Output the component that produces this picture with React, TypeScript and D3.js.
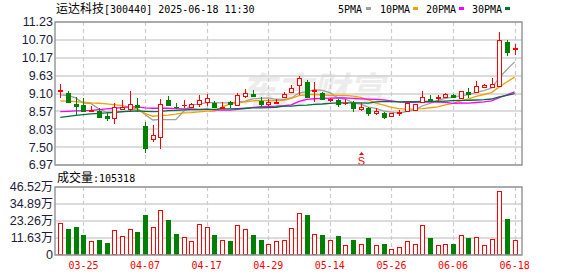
import React from 'react';
import * as d3 from 'd3';

const dates = ['03-20','03-21','03-24','03-25','03-26','03-27','03-28','03-31','04-01','04-02','04-03','04-07','04-08','04-09','04-10','04-11','04-14','04-15','04-16','04-17','04-18','04-21','04-22','04-23','04-24','04-25','04-28','04-29','04-30','05-06','05-07','05-08','05-09','05-12','05-13','05-14','05-15','05-16','05-19','05-20','05-21','05-22','05-23','05-26','05-27','05-28','05-29','05-30','06-03','06-04','06-05','06-06','06-09','06-10','06-11','06-12','06-13','06-16','06-17','06-18'];
const dateTicks = ['03-25','04-07','04-17','04-29','05-14','05-26','06-06','06-18'];

const opens = [9.16,9.11,8.79,8.76,8.58,8.58,8.44,8.36,8.65,8.65,8.75,8.13,7.74,7.80,8.91,8.71,8.75,8.71,8.78,8.86,8.81,8.66,8.84,8.76,9.03,9.09,8.89,8.78,8.81,9.00,9.15,9.35,9.45,9.17,9.12,8.90,8.91,8.82,8.83,8.64,8.66,8.51,8.53,8.44,8.51,8.59,8.61,8.84,8.94,8.96,9.00,9.06,8.96,9.15,9.15,9.30,9.29,9.33,10.64,10.43];
const highs = [9.38,9.18,9.00,8.96,8.72,8.66,8.51,8.81,8.91,9.17,8.96,8.26,8.16,8.94,9.04,8.83,8.91,8.83,9.06,9.09,8.88,8.84,8.88,9.12,9.23,9.20,8.99,8.93,8.93,9.15,9.35,9.63,9.50,9.45,9.15,8.98,8.93,8.93,8.88,8.81,8.69,8.66,8.56,8.53,8.61,8.81,8.79,9.17,9.06,9.06,9.11,9.08,9.17,9.27,9.47,9.39,9.55,10.92,10.69,10.57];
const lows = [8.98,8.81,8.46,8.54,8.56,8.36,8.29,8.18,8.63,8.58,8.54,7.34,7.66,7.45,8.74,8.63,8.68,8.69,8.71,8.73,8.66,8.63,8.68,8.73,8.96,9.01,8.71,8.73,8.78,8.96,9.12,9.06,8.96,8.86,8.91,8.86,8.71,8.76,8.56,8.58,8.43,8.46,8.33,8.41,8.43,8.56,8.60,8.81,8.88,8.88,8.97,8.96,8.94,8.97,9.12,9.26,9.26,9.30,10.23,10.25];
const closes = [9.19,8.86,8.73,8.59,8.62,8.41,8.36,8.69,8.69,8.80,8.71,7.49,7.86,8.78,8.76,8.71,8.75,8.78,8.91,8.98,8.71,8.71,8.78,9.06,9.11,9.04,8.79,8.84,8.86,9.08,9.27,9.55,9.00,9.19,8.94,8.95,8.78,8.82,8.66,8.71,8.51,8.58,8.41,8.51,8.54,8.81,8.78,9.00,8.91,8.99,9.08,9.00,9.17,9.10,9.32,9.35,9.37,10.69,10.35,10.45];
// volume in 万
const volumes = [21.7,17.8,19.2,13.7,9.3,10.3,8.2,16.9,12.8,17.6,15.7,27.4,18.9,30.6,23.9,14.4,12.1,9.3,21.0,18.9,13.7,10.0,9.6,20.3,17.8,13.7,10.3,7.5,9.3,10.3,18.2,28.5,27.4,14.1,13.7,10.3,13.0,6.6,10.3,7.5,11.6,6.6,7.5,4.1,5.5,9.3,7.5,20.3,11.6,6.6,7.5,7.5,13.5,11.6,12.1,6.6,10.9,43.6,24.6,10.53];

// moving-average values before enough history is on screen
const ma5Head = [9.06,9.04,8.97,8.81];
const ma10Head = [8.88,8.87,8.86,8.84,8.82,8.81,8.79,8.77,8.74];
const ma20Head = [8.56,8.57,8.58,8.59,8.60,8.62,8.64,8.66,8.68,8.70,8.70,8.67,8.66,8.66,8.66,8.65,8.64,8.64,8.63];
const ma30Head = [8.39,8.42,8.45,8.47,8.49,8.51,8.52,8.54,8.56,8.57,8.58,8.57,8.56,8.57,8.59,8.60,8.61,8.62,8.62,8.63,8.63,8.64,8.64,8.65,8.66,8.67,8.67,8.68,8.69];

const priceTicks = [6.97,7.50,8.03,8.57,9.10,9.63,10.17,10.70,11.23];
const volTicks = [0,11.63,23.26,34.89,46.52];
const volTickLabels = ['0','11.63万','23.26万','34.89万','46.52万'];
const maNames = ['5PMA','10PMA','20PMA','30PMA'];
const sellSignals = ['05-20'];
const title = '[300440] 2025-06-18 11:30';
const stockName = '运达科技';
const lastVolume = '105318';

const RED = '#ff0000';
const GREEN = '#008000';
const maColors = ['#a0a0a0', '#f0a000', '#ff00ff', '#006f3c'];
const MONO = "'DejaVu Sans Mono', monospace";
const CJK = "'Noto Sans CJK SC', sans-serif";
const SANS = "'Liberation Sans', Arial, sans-serif";

function ma(n: number, head: number[]) {
  return closes.map((_, i) => (i >= n - 1 ? d3.mean(closes.slice(i - n + 1, i + 1))! : head[i]));
}

export default function App() {
  const L = 55, R = 522, pTop = 22, pBot = 165, vTop = 187, vBot = 255;
  const idx = d3.range(dates.length);
  const x = d3.scaleBand<number>().domain(idx).range([56.5, 518.5]).padding(0);
  const cx = (i: number) => x(i)! + x.bandwidth() / 2;
  const y = d3.scaleLinear().domain([6.97, 11.23]).range([pBot, pTop]);
  const yv = d3.scaleLinear().domain([0, 46.52]).range([vBot, vTop]);

  const up = idx.map((i) =>
    closes[i] > opens[i] ? true : closes[i] < opens[i] ? false : i === 0 ? true : closes[i] >= closes[i - 1]
  );

  const mas = [ma(5, ma5Head), ma(10, ma10Head), ma(20, ma20Head), ma(30, ma30Head)];
  const line = d3.line<number>().x((_, i) => cx(i)).y((d) => y(d));

  const tickIdx = dateTicks.map((d) => dates.indexOf(d));
  const legendX = [338, 380, 426, 472];
  const markX = [366, 413, 459, 505];

  return (
    <svg width={578} height={276} style={{ display: 'block', position: 'absolute', left: 0, top: 0 }}>
      <rect x={0} y={0} width={578} height={276} fill="#fff" />
      {/* title */}
      <text x={56} y={13} fontSize={12} fill="#000">
        <tspan fontFamily={CJK} fontSize={12}>{stockName}</tspan>
        <tspan fontFamily={MONO} fontSize={10}>{title}</tspan>
      </text>
      {/* legend */}
      {maNames.map((n, k) => (
        <g key={n}>
          <text x={legendX[k]} y={13} fontFamily={MONO} fontSize={10} fill="#000">{n}</text>
          <rect x={markX[k]} y={7} width={5} height={3} fill={maColors[k]} />
        </g>
      ))}
      {/* watermark */}
      <text x={240} y={103} fontFamily={CJK} fontWeight={700} fontSize={36} fill="#ececec" fontStyle="italic">东方财富</text>

      {/* price grid */}
      {priceTicks.map((t) => (
        <line key={t} x1={L} x2={R} y1={Math.round(y(t))} y2={Math.round(y(t))} stroke="#d0d0d0" strokeWidth={1.5} />
      ))}
      {tickIdx.map((i) => (
        <line key={i} x1={Math.round(cx(i)) + 0.5} x2={Math.round(cx(i)) + 0.5} y1={pTop} y2={pBot} stroke="#cccccc" strokeWidth={1.2} strokeDasharray="4,3" />
      ))}
      {/* volume grid */}
      {volTicks.map((t) => (
        <line key={t} x1={L} x2={R} y1={Math.round(yv(t))} y2={Math.round(yv(t))} stroke="#d0d0d0" strokeWidth={1.5} />
      ))}
      {tickIdx.map((i) => (
        <line key={'v' + i} x1={Math.round(cx(i)) + 0.5} x2={Math.round(cx(i)) + 0.5} y1={vTop} y2={vBot} stroke="#cccccc" strokeWidth={1.2} strokeDasharray="4,3" />
      ))}

      {/* MA lines */}
      {mas.map((m, k) => (
        <path key={k} d={line(m)!} fill="none" stroke={maColors[k]} strokeWidth={1.3} />
      ))}

      {/* candles */}
      {idx.map((i) => {
        const c = Math.round(cx(i));
        const color = up[i] ? RED : GREEN;
        const top = Math.round(y(Math.max(opens[i], closes[i])));
        const bot = Math.round(y(Math.min(opens[i], closes[i])));
        const hi = Math.round(y(highs[i]));
        const lo = Math.round(y(lows[i]));
        const wx = c + 0.5;
        if (bot - top < 1) {
          return (
            <g key={i}>
              <line x1={wx} x2={wx} y1={hi} y2={lo} stroke={color} />
              <line x1={c - 2} x2={c + 3} y1={top + 0.5} y2={top + 0.5} stroke={color} />
            </g>
          );
        }
        if (up[i]) {
          return (
            <g key={i}>
              <line x1={wx} x2={wx} y1={hi} y2={top} stroke={color} />
              <line x1={wx} x2={wx} y1={bot} y2={lo} stroke={color} />
              <rect x={c - 1.5} y={top + 0.5} width={4} height={bot - top} fill="#fff" stroke={color} />
            </g>
          );
        }
        return (
          <g key={i}>
            <line x1={wx} x2={wx} y1={hi} y2={lo} stroke={color} />
            <rect x={c - 2} y={top} width={5} height={bot - top + 1} fill={color} />
          </g>
        );
      })}

      {/* sell signal */}
      {sellSignals.map((d) => {
        const c = Math.round(cx(dates.indexOf(d))) + 0.5;
        return (
          <g key={d}>
            <path d={`M${c},${pBot - 13} L${c - 2.5},${pBot - 10} L${c + 2.5},${pBot - 10} Z`} fill={RED} />
            <text x={c} y={pBot - 0.5} textAnchor="middle" fontFamily={SANS} fontSize={11} fill={RED}>S</text>
          </g>
        );
      })}

      {/* volume bars */}
      {idx.map((i) => {
        const c = Math.round(cx(i));
        const top = Math.round(yv(volumes[i]));
        return up[i] ? (
          <rect key={i} x={c - 1.5} y={top + 0.5} width={4} height={vBot - top - 1} fill="#fff" stroke={RED} />
        ) : (
          <rect key={i} x={c - 2} y={top} width={5} height={vBot - top} fill={GREEN} />
        );
      })}

      {/* borders */}
      <rect x={L} y={pTop} width={R - L} height={pBot - pTop} fill="none" stroke="#999" strokeWidth={1.5} />
      <rect x={L} y={vTop} width={R - L} height={vBot - vTop} fill="none" stroke="#999" strokeWidth={1.5} />

      {/* price labels */}
      {priceTicks.map((t) => (
        <text key={t} x={53} y={y(t)} dy="0.35em" textAnchor="end" fontFamily={SANS} fontSize={12.5} fill="#1c1c3a">
          {t.toFixed(2)}
        </text>
      ))}
      {/* volume labels */}
      {volTicks.map((t, k) => (
        <text key={t} x={53} y={yv(t) - 0.5} dy="0.35em" textAnchor="end" fontFamily={SANS} fontSize={12.5} fill="#1c1c3a">
          {volTickLabels[k].replace('万', '')}
          {volTickLabels[k].includes('万') && <tspan fontFamily={CJK} fontSize={12}>万</tspan>}
        </text>
      ))}
      <text x={57} y={182} fill="#000">
        <tspan fontFamily={CJK} fontSize={12}>成交量</tspan>
        <tspan fontFamily={MONO} fontSize={10}>{':' + lastVolume}</tspan>
      </text>
      {/* date labels */}
      {tickIdx.map((i, k) => (
        <text key={k} x={cx(i)} y={269} textAnchor="middle" fontFamily={MONO} fontSize={10} fill={RED}>
          {dateTicks[k]}
        </text>
      ))}
    </svg>
  );
}
